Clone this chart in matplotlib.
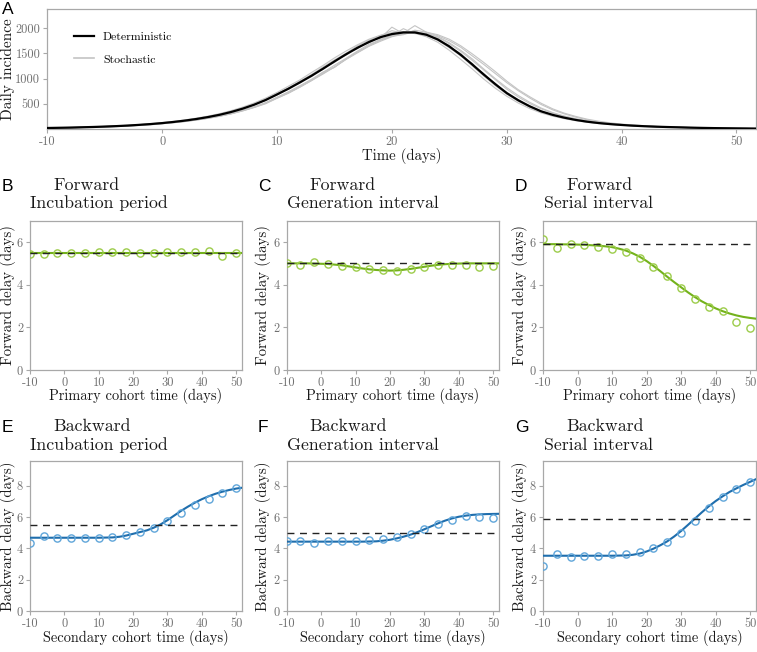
import matplotlib
matplotlib.use("Agg")
import matplotlib.pyplot as plt
from matplotlib.lines import Line2D

plt.rcParams['axes.unicode_minus'] = False

# ---------------- Panel A data ----------------
days = list(range(-10, 53))
deterministic = [20, 24, 28, 34, 40, 48, 57, 68, 82, 98,
                 117, 140, 167, 199, 237, 282, 337, 403, 481, 574,
                 685, 800, 925, 1055, 1195, 1340, 1480, 1610, 1725, 1820,
                 1883, 1915, 1915, 1870, 1775, 1637, 1470, 1280, 1080, 890,
                 712, 570, 450, 350, 280, 225, 180, 145, 118, 97,
                 80, 66, 55, 46, 39, 33, 27, 22, 18, 15, 12, 10, 8]
stoch1 = [22, 25, 30, 35, 42, 50, 60, 71, 85, 102,
          122, 146, 172, 207, 246, 290, 348, 415, 492, 590,
          705, 815, 950, 1080, 1230, 1370, 1500, 1650, 1760, 1850,
          1950, 1900, 1930, 1860, 1760, 1610, 1450, 1250, 1050, 860,
          690, 550, 435, 340, 270, 215, 172, 138, 112, 92,
          76, 63, 52, 44, 37, 31, 26, 21, 17, 14, 11, 9, 7]
stoch2 = [17, 20, 24, 29, 34, 41, 48, 58, 70, 83,
          104, 124, 149, 178, 212, 252, 300, 358, 425, 500,
          610, 710, 830, 960, 1090, 1230, 1380, 1510, 1640, 1740,
          1830, 1880, 1920, 1900, 1830, 1710, 1560, 1390, 1190, 1000,
          820, 665, 530, 415, 325, 258, 205, 163, 132, 107,
          88, 72, 60, 49, 41, 34, 29, 23, 19, 16, 13, 10, 8]
stoch3 = [21, 23, 29, 33, 41, 47, 58, 67, 84, 97,
          120, 138, 170, 196, 242, 278, 345, 398, 490, 565,
          700, 790, 940, 1040, 1215, 1320, 1500, 1590, 1750, 1800,
          2020, 1890, 1950, 1850, 1800, 1620, 1500, 1260, 1100, 880,
          730, 560, 460, 345, 285, 222, 183, 143, 120, 96,
          81, 65, 56, 45, 40, 32, 28, 21, 19, 14, 13, 9, 8]
stoch4 = [18, 21, 25, 30, 36, 43, 51, 61, 73, 88,
          105, 126, 150, 180, 213, 254, 302, 360, 430, 510,
          610, 715, 835, 960, 1100, 1230, 1380, 1520, 1650, 1760,
          1840, 1900, 2050, 1920, 1870, 1780, 1650, 1490, 1320, 1140,
          950, 780, 640, 510, 400, 315, 250, 195, 155, 122,
          98, 80, 65, 53, 44, 37, 31, 25, 21, 17, 14, 11, 9]
stoch5 = [19, 24, 27, 35, 39, 49, 56, 69, 81, 99,
          115, 142, 165, 201, 234, 286, 332, 408, 476, 580,
          678, 810, 915, 1070, 1180, 1360, 1465, 1630, 1710, 1840,
          1870, 1930, 1900, 1890, 1760, 1660, 1450, 1300, 1060, 905,
          700, 580, 440, 360, 272, 230, 176, 148, 115, 99,
          78, 67, 54, 47, 38, 34, 26, 23, 17, 15, 12, 10, 8]
stoch6 = [18, 21, 26, 30, 37, 43, 52, 62, 74, 89,
          106, 128, 150, 182, 214, 258, 305, 368, 432, 520,
          625, 740, 860, 985, 1120, 1265, 1400, 1545, 1680, 1770,
          1850, 1990, 1890, 1900, 1820, 1690, 1540, 1360, 1170, 980,
          790, 635, 505, 400, 315, 250, 196, 157, 127, 103,
          85, 70, 58, 48, 40, 33, 27, 22, 18, 15, 12, 10, 8]
stoch7 = [22, 26, 31, 36, 44, 52, 62, 74, 89, 106,
          127, 152, 181, 216, 256, 305, 364, 433, 515, 612,
          725, 850, 975, 1120, 1260, 1410, 1545, 1670, 1780, 1860,
          1910, 1930, 1900, 1830, 1720, 1560, 1380, 1190, 990, 810,
          650, 515, 405, 318, 255, 205, 165, 132, 108, 89,
          73, 60, 50, 42, 35, 30, 24, 20, 16, 13, 11, 9, 7]
stoch8 = [17, 22, 25, 31, 36, 44, 51, 63, 73, 90,
          110, 132, 155, 188, 220, 265, 312, 372, 440, 520,
          630, 730, 840, 970, 1130, 1220, 1390, 1530, 1650, 1780,
          1850, 1870, 1960, 1920, 1850, 1750, 1620, 1450, 1280, 1100,
          920, 760, 615, 485, 380, 300, 235, 182, 142, 113,
          91, 75, 62, 51, 43, 36, 29, 24, 20, 16, 13, 11, 9]
stochastic = [stoch1, stoch2, stoch3, stoch4, stoch5, stoch6, stoch7, stoch8]

a_yticks = [500, 1000, 1500, 2000]
a_yticklabels = ['500', '1000', '1500', '2000']
xticks = [-10, 0, 10, 20, 30, 40, 50]
xticklabels = ['-10', '0', '10', '20', '30', '40', '50']

# ---------------- Panels B-G data ----------------
cohort_t = [-10, -6, -2, 2, 6, 10, 14, 18, 22, 26, 30, 34, 38, 42, 46, 50]
curve_t = [-10, -8, -6, -4, -2, 0, 2, 4, 6, 8, 10, 12, 14, 16, 18, 20,
           22, 24, 26, 28, 30, 32, 34, 36, 38, 40, 42, 44, 46, 48, 50, 52]

fwd_inc_pts = [5.42, 5.45, 5.5, 5.5, 5.5, 5.52, 5.52, 5.52, 5.5, 5.5, 5.52, 5.52, 5.52, 5.57, 5.35, 5.5]
fwd_inc_curve = [5.5, 5.5, 5.5, 5.5, 5.5, 5.5, 5.5, 5.5, 5.5, 5.5, 5.5, 5.5, 5.5, 5.5, 5.5, 5.5,
                 5.5, 5.5, 5.5, 5.5, 5.5, 5.5, 5.5, 5.5, 5.5, 5.5, 5.5, 5.5, 5.5, 5.5, 5.5, 5.5]
fwd_inc_mean = 5.5

fwd_gen_pts = [5.02, 4.94, 5.05, 4.95, 4.88, 4.83, 4.72, 4.67, 4.63, 4.72, 4.83, 4.9, 4.92, 4.92, 4.83, 4.89]
fwd_gen_curve = [5.0, 5.0, 5.0, 5.0, 4.99, 4.98, 4.97, 4.94, 4.91, 4.86, 4.81, 4.76, 4.72, 4.69, 4.67, 4.66,
                 4.67, 4.70, 4.74, 4.79, 4.84, 4.89, 4.93, 4.96, 4.98, 4.99, 5.0, 5.0, 5.0, 5.0, 5.0, 5.0]
fwd_gen_mean = 5.0

fwd_ser_pts = [6.15, 5.73, 5.9, 5.85, 5.76, 5.69, 5.55, 5.23, 4.83, 4.39, 3.85, 3.35, 2.96, 2.77, 2.26, 1.98]
fwd_ser_curve = [5.9, 5.9, 5.9, 5.89, 5.89, 5.88, 5.87, 5.85, 5.83, 5.80, 5.76, 5.69, 5.60, 5.47, 5.31, 5.11,
                 4.88, 4.63, 4.37, 4.12, 3.88, 3.64, 3.42, 3.22, 3.05, 2.89, 2.76, 2.65, 2.56, 2.49, 2.44, 2.40]
fwd_ser_mean = 5.9

bwd_inc_pts = [4.36, 4.81, 4.64, 4.64, 4.68, 4.68, 4.72, 4.83, 5.02, 5.28, 5.74, 6.23, 6.77, 7.15, 7.55, 7.87]
bwd_inc_curve = [4.68, 4.68, 4.68, 4.68, 4.68, 4.68, 4.68, 4.68, 4.68, 4.68, 4.68, 4.69, 4.70, 4.74, 4.82, 4.93,
                 5.04, 5.15, 5.32, 5.53, 5.80, 6.10, 6.40, 6.67, 6.92, 7.14, 7.33, 7.49, 7.62, 7.73, 7.82, 7.88]
bwd_inc_mean = 5.5

bwd_gen_pts = [4.47, 4.49, 4.36, 4.45, 4.49, 4.47, 4.51, 4.57, 4.70, 4.91, 5.23, 5.53, 5.83, 6.04, 6.02, 5.96]
bwd_gen_curve = [4.43, 4.43, 4.43, 4.43, 4.43, 4.43, 4.43, 4.43, 4.43, 4.43, 4.43, 4.43, 4.44, 4.45, 4.49, 4.55,
                 4.64, 4.75, 4.88, 5.04, 5.22, 5.41, 5.60, 5.77, 5.91, 6.02, 6.09, 6.14, 6.17, 6.19, 6.20, 6.21]
bwd_gen_mean = 5.0

bwd_ser_pts = [2.89, 3.62, 3.43, 3.53, 3.51, 3.62, 3.62, 3.79, 4.04, 4.38, 5.0, 5.74, 6.55, 7.26, 7.77, 8.21]
bwd_ser_curve = [3.53, 3.53, 3.53, 3.53, 3.53, 3.53, 3.53, 3.53, 3.53, 3.53, 3.53, 3.54, 3.55, 3.59, 3.67, 3.80,
                 3.98, 4.20, 4.45, 4.76, 5.11, 5.50, 5.90, 6.30, 6.68, 7.02, 7.32, 7.60, 7.83, 8.05, 8.25, 8.45]
bwd_ser_mean = 5.9

fwd_yticks = [0, 2, 4, 6]
fwd_yticklabels = ['0', '2', '4', '6']
bwd_yticks = [0, 2, 4, 6, 8]
bwd_yticklabels = ['0', '2', '4', '6', '8']

titles_top = ['Forward', 'Forward', 'Forward', 'Backward', 'Backward', 'Backward']
titles_bottom = ['Incubation period', 'Generation interval', 'Serial interval',
                 'Incubation period', 'Generation interval', 'Serial interval']
letters = ['B', 'C', 'D', 'E', 'F', 'G']

# ---------------- styling ----------------
W, H = 757, 652
SERIF = 'cmr10'
SANS = 'Liberation Sans'
TICKC = '#707070'
SPINEC = '#a8a8a8'
TXT = '#1a1a1a'
GREEN_L = '#74b21c'
GREEN_M = '#9ccc4a'
BLUE_L = '#1f6ead'
BLUE_M = '#5fa5d9'

fig = plt.figure(figsize=(W / 100, H / 100), dpi=100)


def rect(l, t, r, b):
    return [l / W, 1 - b / H, (r - l) / W, (b - t) / H]


def style(ax, yt, ytl):
    for s in ax.spines.values():
        s.set_color(SPINEC)
        s.set_linewidth(0.9)
    ax.set_xticks(xticks)
    ax.set_xticklabels(xticklabels, fontfamily=SERIF, fontsize=8.9, color=TICKC)
    ax.set_yticks(yt)
    ax.set_yticklabels(ytl, fontfamily=SERIF, fontsize=8.9, color=TICKC)
    ax.tick_params(axis='both', colors=SPINEC, length=3, width=0.8, pad=2.0,
                   labelcolor=TICKC)


# Panel A
axA = fig.add_axes(rect(47.3, 9, 756, 129))
for s in stochastic:
    axA.plot(days, s, color='#c4c4c4', lw=0.8, zorder=2)
axA.plot(days, deterministic, color='black', lw=1.6, zorder=3)
axA.set_xlim(-10, 51.7)
axA.set_ylim(0, 2380)
style(axA, a_yticks, a_yticklabels)
handles = [Line2D([], [], color='black', lw=1.6), Line2D([], [], color='#c4c4c4', lw=1.2)]
axA.legend(handles, ['Deterministic', 'Stochastic'], loc='upper left',
           bbox_to_anchor=(0.022, 0.90), frameon=False,
           prop={'family': SERIF, 'size': 8.5}, handlelength=1.7,
           handletextpad=0.8, labelspacing=1.05)
fig.text(7.5 / W, 1 - 69 / H, 'Daily incidence', rotation=90, ha='center', va='center',
         fontfamily=SERIF, fontsize=11, color=TXT)
fig.text((47.3 + 756) / 2 / W, 1 - 155.5 / H, 'Time (days)', ha='center', va='center',
         fontfamily=SERIF, fontsize=10.7, color=TXT)
fig.text(2 / W, 1 - 2 / H, 'A', ha='left', va='top', fontfamily=SANS, fontsize=12.5, color='black')

# Panels B-G
lefts = [30, 286.7, 543]
rights = [242, 499, 756]
ylab_x = [8, 263, 520]
letter_x = [2, 258, 515]
rows = [
    dict(top=220.7, bottom=370, ylim=(0, 7), yt=fwd_yticks, ytl=fwd_yticklabels,
         ylabel='Forward delay (days)', xlabel='Primary cohort time (days)',
         line=GREEN_L, mk=GREEN_M, t1=190, t2=208, xlab_y=396, letter_top=179),
    dict(top=460.7, bottom=611, ylim=(0, 9.6), yt=bwd_yticks, ytl=bwd_yticklabels,
         ylabel='Backward delay (days)', xlabel='Secondary cohort time (days)',
         line=BLUE_L, mk=BLUE_M, t1=431, t2=450, xlab_y=638, letter_top=420),
]
pts_list = [fwd_inc_pts, fwd_gen_pts, fwd_ser_pts, bwd_inc_pts, bwd_gen_pts, bwd_ser_pts]
curve_list = [fwd_inc_curve, fwd_gen_curve, fwd_ser_curve, bwd_inc_curve, bwd_gen_curve, bwd_ser_curve]
mean_list = [fwd_inc_mean, fwd_gen_mean, fwd_ser_mean, bwd_inc_mean, bwd_gen_mean, bwd_ser_mean]

for i in range(6):
    r = rows[i // 3]
    c = i % 3
    ax = fig.add_axes(rect(lefts[c], r['top'], rights[c], r['bottom']))
    ax.plot(curve_t, curve_list[i], color=r['line'], lw=1.5, zorder=3)
    ax.plot(cohort_t, pts_list[i], linestyle='none', marker='o', markersize=5.2,
            markerfacecolor='none', markeredgecolor=r['mk'], markeredgewidth=1.0, zorder=4)
    ax.axhline(mean_list[i], color='#222222', lw=1.0, ls=(0, (5, 4)), zorder=5)
    ax.set_xlim(-10, 51.7)
    ax.set_ylim(*r['ylim'])
    style(ax, r['yt'], r['ytl'])
    fig.text(ylab_x[c] / W, 1 - (r['top'] + r['bottom']) / 2 / H, r['ylabel'], rotation=90,
             ha='center', va='center', fontfamily=SERIF, fontsize=10.7, color=TXT)
    fig.text((lefts[c] + rights[c]) / 2 / W, 1 - r['xlab_y'] / H, r['xlabel'],
             ha='center', va='center', fontfamily=SERIF, fontsize=10.4, color=TXT)
    fig.text((lefts[c] + 23) / W, 1 - r['t1'] / H, titles_top[i], ha='left', va='baseline',
             fontfamily=SERIF, fontsize=12.8, color=TXT)
    fig.text((lefts[c] + 0.5) / W, 1 - r['t2'] / H, titles_bottom[i], ha='left', va='baseline',
             fontfamily=SERIF, fontsize=12.8, color=TXT)
    fig.text(letter_x[c] / W, 1 - r['letter_top'] / H, letters[i], ha='left', va='top',
             fontfamily=SANS, fontsize=12.5, color='black')

fig.savefig('out.png', dpi=100)
